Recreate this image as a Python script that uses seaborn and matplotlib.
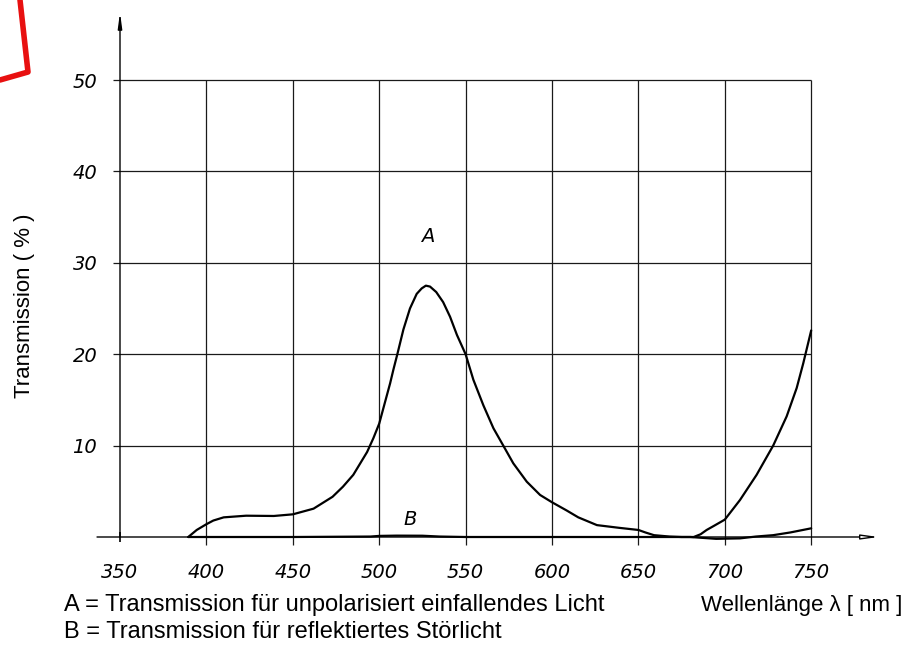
import matplotlib
matplotlib.use("Agg")
import matplotlib.pyplot as plt
from matplotlib.lines import Line2D
import pandas as pd
import seaborn as sns

# ==============================
# Data
# ==============================

# curve A: unpolarised incident light
wl_a = [389.5, 394.4, 400, 404, 410, 423, 439, 450, 462, 473, 479, 485,
        493, 496.6, 500, 503, 506.3, 508.2, 510.5, 514, 517.8, 521.7,
        524.6, 527, 529.4, 533, 537, 541, 545, 550, 554.5, 560.3, 566.1,
        571.8, 577.6, 585.4, 593.1, 600, 608.5, 615.2, 626, 639, 650, 654,
        659, 668, 675, 682, 686, 689.5, 694, 700, 708.8, 718.4, 728, 735.8,
        741.6, 745.4, 750]
tr_a = [0, 0.77, 1.4, 1.8, 2.15, 2.33, 2.3, 2.48, 3.1, 4.4, 5.5, 6.8,
        9.3, 10.8, 12.4, 14.5, 16.8, 18.3, 20, 22.7, 25.0, 26.6,
        27.2, 27.5, 27.4, 26.8, 25.7, 24.1, 22.1, 20, 17.2, 14.4, 11.9,
        10.0, 8.06, 6.05, 4.6, 3.8, 2.9, 2.15, 1.3, 1.0, 0.77, 0.5,
        0.2, 0.05, 0, 0, 0.3, 0.77, 1.25, 1.9, 4.05, 6.8, 10, 13.2,
        16.3, 19.0, 22.6]

# curve B: reflected stray light
wl_b = [389.5, 450, 495, 500, 510, 525, 535, 550, 600, 650, 680, 695, 708.8,
        718, 728, 738, 750]
tr_b = [0, 0, 0.05, 0.12, 0.15, 0.14, 0.05, 0, 0, 0, 0, -0.2, -0.15,
        0.05, 0.2, 0.5, 0.95]

x_ticks = [350, 400, 450, 500, 550, 600, 650, 700, 750]
y_ticks = [10, 20, 30, 40, 50]

df = pd.concat([
    pd.DataFrame({"wl": wl_a, "tr": tr_a, "curve": "A"}),
    pd.DataFrame({"wl": wl_b, "tr": tr_b, "curve": "B"}),
])

# ==============================
# Figure
# ==============================

sns.set_style("white")
plt.rcParams["font.family"] = ["DejaVu Sans"]
plt.rcParams["text.color"] = "black"
plt.rcParams["xtick.color"] = "black"
plt.rcParams["ytick.color"] = "black"

fig = plt.figure(figsize=(9.07, 6.57), dpi=100)
ax = fig.add_axes([100 / 907, 1 - 548 / 657, 790 / 907, 538 / 657])

# grid like the drawing
ax.hlines(y_ticks, 346, 750, color="#1a1a1a", lw=0.9, zorder=1)
ax.vlines(x_ticks[1:], -0.9, 50, color="#1a1a1a", lw=0.9, zorder=1)
ax.vlines([350], -0.6, 0.6, color="k", lw=1.2)

sns.lineplot(data=df, x="wl", y="tr", units="curve", estimator=None,
             sort=False, color="black", lw=1.6, ax=ax, zorder=3)

# axes with arrow heads
ax.annotate("", xy=(350, 57.4), xytext=(350, 0),
            arrowprops=dict(arrowstyle="-|>,head_width=0.12,head_length=0.9",
                            color="black", lw=1.0, shrinkA=0, shrinkB=0))
ax.annotate("", xy=(789, 0), xytext=(336.7, 0),
            arrowprops=dict(arrowstyle="-|>,head_width=0.14,head_length=1.0",
                            fc="white", ec="black", lw=1.0,
                            shrinkA=0, shrinkB=0), annotation_clip=False)

ax.set_xlim(350 - 20 / 1.728, 350 + 770 / 1.728)
ax.set_ylim(-11 / 9.14, 527 / 9.14)

ax.set_xticks(x_ticks, labels=[str(v) for v in x_ticks])
ax.set_yticks(y_ticks, labels=[str(v) for v in y_ticks])
ax.tick_params(axis="x", length=0, pad=11, labelsize=14)
ax.tick_params(axis="y", length=0, pad=2, labelsize=14)
for lab in ax.get_xticklabels() + ax.get_yticklabels():
    lab.set_fontstyle("italic")
ax.set_xlabel("")
ax.set_ylabel("")
sns.despine(ax=ax, left=True, bottom=True)

# curve names
ax.text(528, 32.9, "A", fontsize=14, style="italic", ha="center", va="center")
ax.text(518, 1.9, "B", fontsize=14, style="italic", ha="center", va="center")

# texts around the chart
txt = dict(family=["Liberation Sans", "DejaVu Sans"], fontsize=16)
fig.text(25 / 907, 1 - 306 / 657, "Transmission ( % )", rotation=90,
         ha="center", va="center", **txt)
fig.text(64 / 907, 1 - 605 / 657,
         "A = Transmission für unpolarisiert einfallendes Licht",
         ha="left", va="center", family=txt["family"], fontsize=17)
fig.text(64 / 907, 1 - 632 / 657,
         "B = Transmission für reflektiertes Störlicht",
         ha="left", va="center", family=txt["family"], fontsize=17)
fig.text(902 / 907, 1 - 605 / 657, "Wellenlänge λ [ nm ]",
         ha="right", va="center", **txt)

# red marker stroke from the scan
fig.add_artist(Line2D([20 / 907, 28 / 907, 0], [1, 1 - 72 / 657, 1 - 80 / 657],
                      transform=fig.transFigure, color="#e81010", lw=4))

fig.savefig("out.png", dpi=100)
plt.close(fig)
